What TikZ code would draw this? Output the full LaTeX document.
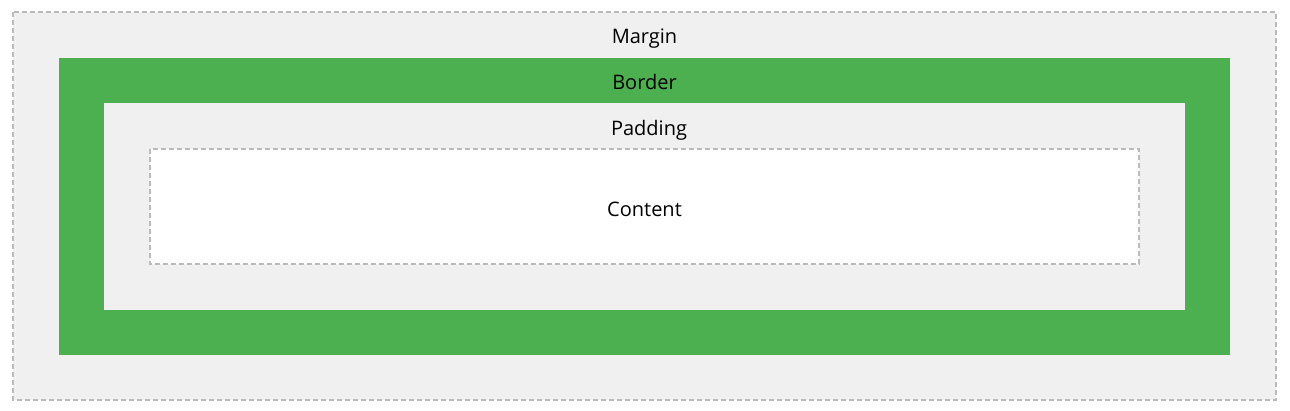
\documentclass[tikz,border=0pt]{standalone}
\usepackage{fontspec}
\setmainfont{Open Sans}
\usetikzlibrary{positioning}
\definecolor{boxgray}{HTML}{F0F0F0}
\definecolor{boxgreen}{HTML}{4CAF50}
\definecolor{dashgray}{HTML}{BBBBBB}
\tikzset{
    dashbox/.style={draw=dashgray, line width=2.2pt, dash pattern=on 5pt off 3pt},
    boxlabel/.style={font=\fontsize{20}{24}\selectfont, text=black, inner sep=0pt}
}
\begin{document}
\begin{tikzpicture}[x=1pt, y=-1pt]
    \useasboundingbox (0,0) rectangle (1290,411);
    \fill[white] (0,0) rectangle (1290,411);

    \filldraw[fill=boxgray, dashbox] (13,12) rectangle (1276,400);
    \fill[boxgreen] (59,58) rectangle (1230,355);
    \fill[boxgray] (104,103) rectangle (1185,310);
    \filldraw[fill=white, dashbox] (150,149) rectangle (1139,264);

    \node[boxlabel] (margin) at (644.5,39) {Margin};
    \node[boxlabel] (border) at (644.5,82) {Border};
    \node[boxlabel] (padding) at (649,130) {Padding};
    \node[boxlabel] (content) at (644.5,209) {Content};
\end{tikzpicture}
\end{document}
